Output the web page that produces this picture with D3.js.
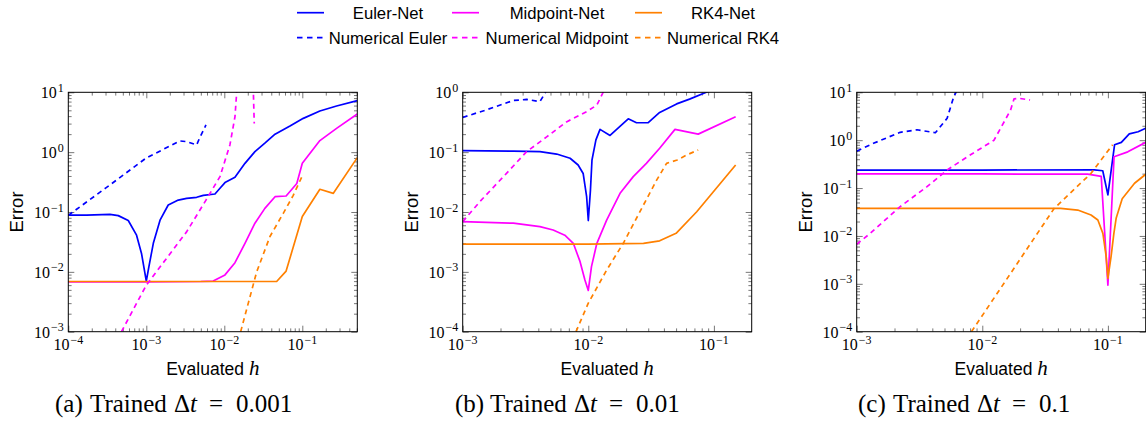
<!DOCTYPE html>
<html><head><meta charset="utf-8">
<script src="https://cdn.jsdelivr.net/npm/d3@7"></script>
<style>body{margin:0;background:#fff}svg{display:block}</style>
</head><body>
<svg id="c" width="1146" height="421"></svg>
<script>
// ---------------- DATA (h, error) ----------------
// Panel (a) trained dt = 0.001
const a_eulerNet = [[1e-4,0.089],[1.72e-4,0.089],[3.42e-4,0.091],[4.37e-4,0.087],[5.87e-4,0.072],[7.5e-4,0.041],[8.7e-4,0.020],[1e-3,0.0070],[1.08e-3,0.0122],[1.23e-3,0.030],[1.5e-3,0.073],[1.91e-3,0.131],[2.57e-3,0.158],[3.29e-3,0.169],[4.42e-3,0.176],[5.38e-3,0.19],[7.59e-3,0.2],[8.8e-3,0.25],[1.02e-2,0.31],[1.37e-2,0.38],[1.84e-2,0.65],[2.47e-2,1.02],[3.31e-2,1.41],[4.47e-2,2.0],[6.95e-2,2.73],[0.103,3.67],[0.168,4.87],[0.275,5.9],[0.507,7.26]];
const a_midNet = [[1e-4,0.0068],[1e-3,0.0068],[5e-3,0.0069],[7.2e-3,0.0070],[1.02e-2,0.0089],[1.37e-2,0.0142],[1.84e-2,0.030],[2.47e-2,0.065],[3.31e-2,0.115],[4.47e-2,0.18],[6.2e-2,0.185],[8.5e-2,0.30],[0.1,0.65],[0.168,1.56],[0.275,2.5],[0.507,4.34]];
const a_rk4Net = [[1e-4,0.0069],[1e-3,0.0069],[1e-2,0.0069],[4.69e-2,0.0069],[6.2e-2,0.0103],[0.1,0.084],[0.168,0.24],[0.25,0.205],[0.507,0.81]];
const a_numEuler = [[1e-4,0.088],[3e-4,0.25],[1e-3,0.8],[2.7e-3,1.54],[3.3e-3,1.5],[4.42e-3,1.32],[4.8e-3,1.7],[5.82e-3,2.85]];
const a_numMid = [[4.8e-4,0.001],[1e-3,0.006],[3.3e-3,0.047],[5.82e-3,0.158],[8.8e-3,0.39],[1.18e-2,1.32],[1.37e-2,3.9],[1.85e-2,1000],[2.35e-2,12],[2.42e-2,3.0]];
const a_numRK4 = [[1.62e-2,0.001],[2.6e-2,0.01],[3.85e-2,0.039],[5.7e-2,0.095],[7.65e-2,0.19],[9.8e-2,0.38]];

// Panel (b) trained dt = 0.01
const b_eulerNet = [[1e-3,0.106],[2.53e-3,0.104],[4.12e-3,0.102],[5.6e-3,0.093],[7.16e-3,0.079],[8.3e-3,0.061],[9.1e-3,0.044],[9.7e-3,0.018],[1e-2,0.0072],[1.04e-2,0.023],[1.07e-2,0.074],[1.15e-2,0.16],[1.24e-2,0.24],[1.49e-2,0.19],[2.08e-2,0.36],[2.42e-2,0.31],[3.0e-2,0.31],[3.7e-2,0.46],[5.05e-2,0.64],[6.4e-2,0.77],[8.7e-2,1.0],[0.15,1.6]];
const b_midNet = [[1e-3,0.0069],[2.53e-3,0.0065],[4.12e-3,0.0057],[5.25e-3,0.005],[6.5e-3,0.0041],[7.6e-3,0.003],[8.6e-3,0.00148],[9.4e-3,0.00073],[1e-2,0.00049],[1.06e-2,0.00122],[1.17e-2,0.003],[1.4e-2,0.0073],[1.79e-2,0.0205],[2.28e-2,0.039],[2.9e-2,0.065],[3.7e-2,0.116],[4.9e-2,0.24],[7.5e-2,0.2],[0.149,0.39]];
const b_rk4Net = [[1e-3,0.0029],[1e-2,0.0029],[2.75e-2,0.003],[3.7e-2,0.0033],[5.0e-2,0.0044],[7.3e-2,0.0101],[0.149,0.061]];
const b_numEuler = [[1e-3,0.38],[1.55e-3,0.51],[2.53e-3,0.73],[3.23e-3,0.76],[4.12e-3,0.7],[4.52e-3,0.96],[5e-3,1.5]];
const b_numMid = [[1e-3,0.0069],[1.37e-3,0.0149],[2.11e-3,0.039],[3.23e-3,0.102],[4.66e-3,0.18],[6.7e-3,0.32],[9.7e-3,0.475],[1.17e-2,0.61],[1.3e-2,0.96],[1.4e-2,1.5]];
const b_numRK4 = [[7.98e-3,1e-4],[1e-2,3e-4],[1.4e-2,1.07e-3],[1.9e-2,3e-3],[2.75e-2,1.31e-2],[3.5e-2,0.034],[4.2e-2,0.065],[5.1e-2,0.074],[6.1e-2,0.09],[7.5e-2,0.109]];

// Panel (c) trained dt = 0.1
const c_eulerNet = [[1e-3,0.238],[1e-2,0.238],[7.8e-2,0.24],[9.1e-2,0.23],[0.1,0.072],[0.113,0.8],[0.128,0.9],[0.148,1.35],[0.174,1.5],[0.2,1.77]];
const c_midNet = [[1e-3,0.197],[1e-2,0.197],[6.9e-2,0.195],[8.85e-2,0.175],[0.1,0.00094],[0.112,0.45],[0.144,0.57],[0.2,0.9]];
const c_rk4Net = [[1e-3,0.0378],[4.2e-2,0.0378],[5.75e-2,0.0347],[7.34e-2,0.0273],[8.32e-2,0.0215],[9.12e-2,0.0113],[9.69e-2,0.0037],[0.1,0.0013],[0.106,0.0037],[0.1116,0.0113],[0.1165,0.0237],[0.13,0.06],[0.163,0.126],[0.2,0.194]];
const c_numEuler = [[1e-3,0.59],[1.36e-3,0.86],[2.22e-3,1.46],[3.02e-3,1.65],[4.23e-3,1.43],[5.25e-3,2.87],[5.93e-3,8.1],[6.5e-3,13]];
const c_numMid = [[1e-3,0.0067],[1.28e-3,0.0113],[2.22e-3,0.041],[3.63e-3,0.107],[5.25e-3,0.238],[7.6e-3,0.45],[1.24e-2,1.0],[1.68e-2,4.27],[1.79e-2,7.3],[1.96e-2,7.5],[2.4e-2,6.9]];
const c_numRK4 = [[8.2e-3,1e-4],[3.74e-2,0.0378],[7.3e-2,0.2],[0.109,0.8]];

// Legend / series names
const seriesNames = ["Euler-Net","Midpoint-Net","RK4-Net","Numerical Euler","Numerical Midpoint","Numerical RK4"];
// Tick exponents
const a_xTickExp = [-4,-3,-2,-1], a_yTickExp = [-3,-2,-1,0,1];
const b_xTickExp = [-3,-2,-1],    b_yTickExp = [-4,-3,-2,-1,0];
const c_xTickExp = [-3,-2,-1],    c_yTickExp = [-4,-3,-2,-1,0,1];
// Captions
const captionLetters = ["(a)","(b)","(c)"];
const captionDt = ["0.001","0.01","0.1"];

// ---------------- STYLE / LAYOUT ----------------
const colors = ["#0000ff","#ff00ff","#ff8000","#0000ff","#ff00ff","#ff8000"];
const dashed = [false,false,false,true,true,true];
const SANS = "'Liberation Sans', Arial, sans-serif";
const SERIF = "'Liberation Serif', 'Times New Roman', serif";

const panels = [
  {x0:68.3, x1:357.3, xd:[1e-4,0.507], yd:[1e-3,10], xt:a_xTickExp, yt:a_yTickExp, capX:55,
   series:[a_eulerNet,a_midNet,a_rk4Net,a_numEuler,a_numMid,a_numRK4]},
  {x0:462.7, x1:751.7, xd:[1e-3,0.2], yd:[1e-4,1], xt:b_xTickExp, yt:b_yTickExp, capX:455,
   series:[b_eulerNet,b_midNet,b_rk4Net,b_numEuler,b_numMid,b_numRK4]},
  {x0:856.7, x1:1145.7, xd:[1e-3,0.2], yd:[1e-4,10], xt:c_xTickExp, yt:c_yTickExp, capX:858,
   series:[c_eulerNet,c_midNet,c_rk4Net,c_numEuler,c_numMid,c_numRK4]}
];
const Y0 = 92.3, Y1 = 331.7;

const svg = d3.select("#c");

function minorTicks(d){
  const out=[]; const lo=Math.floor(Math.log10(d[0])), hi=Math.ceil(Math.log10(d[1]));
  for(let e=lo;e<hi;e++) for(let m=2;m<=9;m++){const v=m*Math.pow(10,e); if(v>d[0]*1.0001 && v<d[1]*0.999) out.push(v);}
  return out;
}
function powLabel(t, e){
  t.append("tspan").text("10");
  t.append("tspan").attr("font-size",12).attr("dx",1).attr("dy",-6.5).text(e<0?"\u2212"+(-e):String(e));
}

panels.forEach((p,i)=>{
  const x = d3.scaleLog().domain(p.xd).range([p.x0,p.x1]);
  const y = d3.scaleLog().domain(p.yd).range([Y1,Y0]);
  const g = svg.append("g");
  const cid = "clip"+i;
  g.append("clipPath").attr("id",cid).append("rect")
    .attr("x",p.x0).attr("y",Y0).attr("width",p.x1-p.x0).attr("height",Y1-Y0);

  const xMaj = p.xt.map(e=>Math.pow(10,e)), yMaj = p.yt.map(e=>Math.pow(10,e));
  const xMin = minorTicks(p.xd), yMin = minorTicks(p.yd);
  const axes = [
    [d3.axisBottom(x), `translate(0,${Y1})`, xMaj, xMin],
    [d3.axisTop(x), `translate(0,${Y0})`, xMaj, xMin],
    [d3.axisLeft(y), `translate(${p.x0},0)`, yMaj, yMin],
    [d3.axisRight(y), `translate(${p.x1},0)`, yMaj, yMin]
  ];
  axes.forEach(([ax,tr,maj,mn])=>{
    [[maj,-6],[mn,-3.3]].forEach(([vals,len])=>{
      const a = g.append("g").attr("transform",tr)
        .call(ax.tickValues(vals).tickSize(len).tickFormat(""));
      a.select(".domain").remove();
      a.selectAll("line").attr("stroke","#555").attr("stroke-width",0.8);
    });
  });

  // series lines
  const line = d3.line().x(d=>x(d[0])).y(d=>y(d[1]));
  const lg = g.append("g").attr("clip-path",`url(#${cid})`);
  p.series.forEach((s,k)=>{
    lg.append("path").datum(s).attr("d",line).attr("fill","none")
      .attr("stroke",colors[k]).attr("stroke-width",1.7)
      .attr("stroke-linejoin","round")
      .attr("stroke-dasharray",dashed[k]?"5,4":null);
  });

  // frame
  g.append("rect").attr("x",p.x0).attr("y",Y0).attr("width",p.x1-p.x0).attr("height",Y1-Y0)
    .attr("fill","none").attr("stroke","#000").attr("stroke-width",1);

  // tick labels
  p.xt.forEach(e=>{
    const t = g.append("text").attr("x",x(Math.pow(10,e))).attr("y",Y1+18.5)
      .attr("text-anchor","middle").attr("font-family",SERIF).attr("font-size",16).attr("fill","#000");
    powLabel(t,e);
  });
  p.yt.forEach(e=>{
    const t = g.append("text").attr("x",p.x0-4.5).attr("y",y(Math.pow(10,e))+6)
      .attr("text-anchor","end").attr("font-family",SERIF).attr("font-size",16).attr("fill","#000");
    powLabel(t,e);
  });

  // axis labels
  g.append("text").attr("transform",`translate(${p.x0-45},${(Y0+Y1)/2}) rotate(-90)`)
    .attr("text-anchor","middle").attr("font-family",SANS).attr("font-size",18.5).text("Error");
  const xl = g.append("text").attr("x",(p.x0+p.x1)/2).attr("y",375)
    .attr("text-anchor","middle").attr("font-family",SANS).attr("font-size",17.5);
  xl.append("tspan").text("Evaluated ");
  xl.append("tspan").attr("font-family",SERIF).attr("font-style","italic").attr("font-size",21).text("h");

  // caption (math-style spacing)
  const c = g.append("text").attr("y",411.5).attr("font-family",SERIF).attr("font-size",25);
  c.append("tspan").attr("x",p.capX).text(captionLetters[i]);
  c.append("tspan").attr("x",p.capX+35).text("Trained");
  c.append("tspan").attr("x",p.capX+119).text("\u0394");
  c.append("tspan").attr("font-style","italic").text("t");
  c.append("tspan").attr("x",p.capX+154).text("=");
  c.append("tspan").attr("x",p.capX+181).text(captionDt[i]);
});

// legend
const legCols = [{lx:297, tc:388},{lx:452, tc:557},{lx:635, tc:723}];
seriesNames.forEach((n,k)=>{
  const col = legCols[k%3], row = Math.floor(k/3);
  const ly = row===0 ? 12.7 : 37.7;
  svg.append("line").attr("x1",col.lx).attr("x2",col.lx+27).attr("y1",ly).attr("y2",ly)
    .attr("stroke",colors[k]).attr("stroke-width",1.7)
    .attr("stroke-dasharray",dashed[k]?"5.5,4.5":null);
  svg.append("text").attr("x",col.tc).attr("y",ly+6).attr("text-anchor","middle")
    .attr("font-family",SANS).attr("font-size",16.7).text(n);
});
</script>
</body></html>
